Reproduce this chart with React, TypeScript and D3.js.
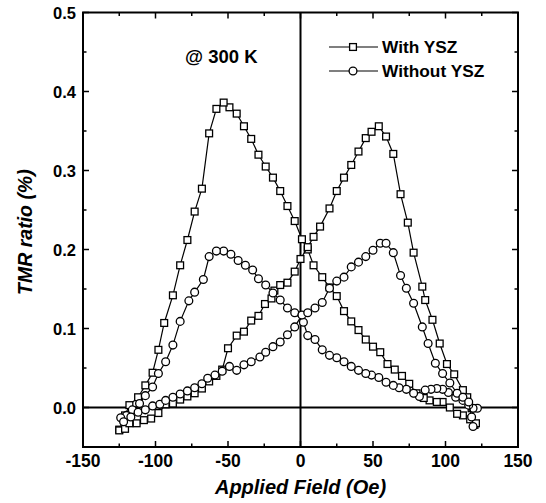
import React from "react";
import * as d3 from "d3";

// TMR ratio vs applied field, two sweeps per sample
const withYszDown: [number, number][] = [
  [120, -0.022], [117, -0.015], [112, -0.01], [108, -0.008], [103, 0.0], [98, 0.007],
  [94, 0.007], [89, 0.009], [85, 0.012], [80, 0.018], [75, 0.03], [70, 0.04],
  [65, 0.048], [60, 0.055], [55, 0.07], [50, 0.077], [45, 0.086], [40, 0.098],
  [35, 0.109], [30, 0.122], [25, 0.141], [20, 0.152], [15, 0.165], [9, 0.18],
  [5, 0.2], [1, 0.213], [-4, 0.236], [-9, 0.255], [-14, 0.274], [-19, 0.291],
  [-24, 0.305], [-29, 0.32], [-34, 0.34], [-39, 0.356], [-44, 0.372], [-49, 0.38],
  [-53, 0.386], [-58, 0.378], [-63, 0.347], [-68, 0.277], [-73, 0.248], [-78, 0.212],
  [-83, 0.18], [-88, 0.142], [-94, 0.107], [-98, 0.073], [-102, 0.044], [-107, 0.028],
  [-112, 0.013], [-118, 0.003], [-121, -0.01], [-125, -0.028],
];
const withYszUp: [number, number][] = [
  [-125, -0.029], [-121, -0.027], [-118, -0.02], [-113, -0.02], [-108, -0.016], [-103, -0.014],
  [-98, -0.007], [-93, 0.004], [-88, 0.005], [-83, 0.01], [-78, 0.014], [-73, 0.018],
  [-68, 0.024], [-63, 0.033], [-58, 0.04], [-54, 0.048], [-50, 0.075], [-44, 0.091],
  [-39, 0.096], [-34, 0.11], [-29, 0.116], [-24.5, 0.131], [-20, 0.138], [-18, 0.148],
  [-14, 0.155], [-9, 0.158], [-4, 0.172], [0, 0.188], [5, 0.203], [9, 0.216],
  [13.5, 0.229], [20, 0.252], [25, 0.274], [30, 0.291], [35, 0.307], [40, 0.324],
  [45, 0.341], [49, 0.349], [54, 0.356], [59, 0.343], [64, 0.321], [69, 0.27],
  [74, 0.234], [78, 0.196], [84, 0.153], [86, 0.136], [91, 0.111], [96, 0.081],
  [101, 0.055], [106, 0.042], [112, 0.022], [115, 0.013], [118, -0.001], [121, -0.02],
];
const withoutYszDown: [number, number][] = [
  [122, -0.001], [119, -0.001], [116, 0.003], [112, 0.009], [107, 0.013], [102, 0.019],
  [98, 0.023], [94, 0.024], [90, 0.023], [86, 0.022], [82, 0.014], [78, 0.018],
  [73, 0.023], [68, 0.025], [64, 0.028], [59, 0.032], [54, 0.038], [49, 0.041],
  [45, 0.043], [40, 0.047], [35, 0.052], [30, 0.058], [25, 0.063], [20, 0.066],
  [15, 0.073], [10, 0.086], [5, 0.091], [2, 0.108], [-4, 0.12], [-9, 0.126],
  [-14, 0.136], [-19, 0.145], [-24, 0.155], [-29, 0.163], [-33, 0.174], [-38, 0.18],
  [-43, 0.186], [-48, 0.194], [-53, 0.198], [-58, 0.198], [-63, 0.191], [-67, 0.162],
  [-73, 0.146], [-77, 0.135], [-83, 0.109], [-88, 0.079], [-93, 0.058], [-98, 0.043],
  [-102, 0.026], [-107, 0.015], [-111, 0.005], [-116, -0.003], [-120, -0.01], [-124, -0.013],
];
const withoutYszUp: [number, number][] = [
  [-122, -0.018], [-117, -0.012], [-112, -0.006], [-107, -0.003], [-102, 0.002], [-97, 0.004],
  [-93, 0.009], [-88, 0.013], [-83, 0.017], [-78, 0.021], [-73, 0.025], [-68, 0.03],
  [-64, 0.037], [-59, 0.041], [-54, 0.046], [-49, 0.052], [-44, 0.047], [-39, 0.054],
  [-34, 0.058], [-28, 0.064], [-24, 0.07], [-19, 0.077], [-14, 0.083], [-9, 0.092],
  [-4, 0.102], [1, 0.117], [5, 0.12], [10, 0.126], [15, 0.133], [20, 0.151],
  [25, 0.16], [30, 0.165], [35, 0.178], [40, 0.184], [45, 0.191], [50, 0.199],
  [55, 0.208], [59, 0.208], [64, 0.196], [69, 0.167], [73, 0.151], [78, 0.132],
  [84, 0.102], [88, 0.081], [93, 0.056], [98, 0.043], [103, 0.031], [108, 0.018],
  [112, 0.013], [116, 0.007], [118, -0.012], [119, -0.024],
];

const xTicks = [-150, -100, -50, 0, 50, 100, 150];
const yTicks = [0, 0.1, 0.2, 0.3, 0.4, 0.5];
const legendLabels = ["With YSZ", "Without YSZ"];

const W = 546;
const H = 503;
const font = "'Liberation Sans', Arial, sans-serif";

function Square({ cx, cy }: { cx: number; cy: number }) {
  return <rect x={cx - 3.4} y={cy - 3.4} width={6.8} height={6.8} fill="#fff" stroke="#000" strokeWidth={1.3} />;
}
function Circle({ cx, cy }: { cx: number; cy: number }) {
  return <circle cx={cx} cy={cy} r={3.9} fill="#fff" stroke="#000" strokeWidth={1.3} />;
}

export default function App() {
  const x = d3.scaleLinear().domain([-150, 150]).range([83, 518]);
  const y = d3.scaleLinear().domain([-0.05, 0.5]).range([447, 12.5]);
  const line = d3.line<[number, number]>().x((d) => x(d[0])).y((d) => y(d[1]));

  const xMinor = d3.range(-125, 150, 50);
  const yMinor = d3.range(-0.05, 0.5, 0.1);
  const [x0, x1] = x.range();
  const [y0, y1] = y.range();

  const series = [
    { data: withYszDown, shape: "sq" },
    { data: withYszUp, shape: "sq" },
    { data: withoutYszDown, shape: "ci" },
    { data: withoutYszUp, shape: "ci" },
  ];

  return (
    <svg width={W} height={H} style={{ position: "absolute", left: 0, top: 0, background: "#fff" }} fontFamily={font}>
      {/* zero lines */}
      <line x1={x(0)} x2={x(0)} y1={y1} y2={y0} stroke="#000" strokeWidth={2} />
      <line x1={x0} x2={x1} y1={y(0)} y2={y(0)} stroke="#000" strokeWidth={2} />

      {series.map((s, i) => (
        <g key={i}>
          <path d={line(s.data) || ""} fill="none" stroke="#000" strokeWidth={1.2} />
          {s.data.map((d, j) =>
            s.shape === "sq" ? <Square key={j} cx={x(d[0])} cy={y(d[1])} /> : <Circle key={j} cx={x(d[0])} cy={y(d[1])} />
          )}
        </g>
      ))}

      {/* frame */}
      <rect x={x0} y={y1} width={x1 - x0} height={y0 - y1} fill="none" stroke="#000" strokeWidth={2} />

      {/* ticks */}
      {xTicks.map((t) => (
        <g key={"xt" + t}>
          <line x1={x(t)} x2={x(t)} y1={y0} y2={y0 - 6} stroke="#000" strokeWidth={1.5} />
          <line x1={x(t)} x2={x(t)} y1={y1} y2={y1 + 6} stroke="#000" strokeWidth={1.5} />
          <text x={x(t)} y={467} textAnchor="middle" fontSize={17.5} fontWeight="bold">{t}</text>
        </g>
      ))}
      {xMinor.map((t) => (
        <g key={"xm" + t}>
          <line x1={x(t)} x2={x(t)} y1={y0} y2={y0 - 3.5} stroke="#000" strokeWidth={1.5} />
          <line x1={x(t)} x2={x(t)} y1={y1} y2={y1 + 3.5} stroke="#000" strokeWidth={1.5} />
        </g>
      ))}
      {yTicks.map((t) => (
        <g key={"yt" + t}>
          <line x1={x0} x2={x0 + 6} y1={y(t)} y2={y(t)} stroke="#000" strokeWidth={1.5} />
          <line x1={x1} x2={x1 - 6} y1={y(t)} y2={y(t)} stroke="#000" strokeWidth={1.5} />
          <text x={76} y={y(t) + 6} textAnchor="end" fontSize={16.5} fontWeight="bold">{d3.format(".1f")(t)}</text>
        </g>
      ))}
      {yMinor.map((t) => (
        <g key={"ym" + t}>
          <line x1={x0} x2={x0 + 3.5} y1={y(t)} y2={y(t)} stroke="#000" strokeWidth={1.5} />
          <line x1={x1} x2={x1 - 3.5} y1={y(t)} y2={y(t)} stroke="#000" strokeWidth={1.5} />
        </g>
      ))}

      {/* axis titles */}
      <text x={x(0)} y={494} textAnchor="middle" fontSize={20} fontWeight="bold" fontStyle="italic">Applied Field (Oe)</text>
      <text transform={`translate(32, ${y(0.222)}) rotate(-90)`} textAnchor="middle" fontSize={19.5} fontWeight="bold" fontStyle="italic">TMR ratio (%)</text>

      <text x={185} y={63} fontSize={18.5} fontWeight="bold">@ 300 K</text>

      {/* legend */}
      {legendLabels.map((lab, i) => {
        const ly = 47 + i * 24;
        return (
          <g key={lab}>
            <line x1={329} x2={378} y1={ly} y2={ly} stroke="#000" strokeWidth={1.2} />
            {i === 0 ? <Square cx={353} cy={ly} /> : <Circle cx={353} cy={ly} />}
            <text x={382} y={ly + 6} fontSize={17.3} fontWeight="bold">{lab}</text>
          </g>
        );
      })}
    </svg>
  );
}
